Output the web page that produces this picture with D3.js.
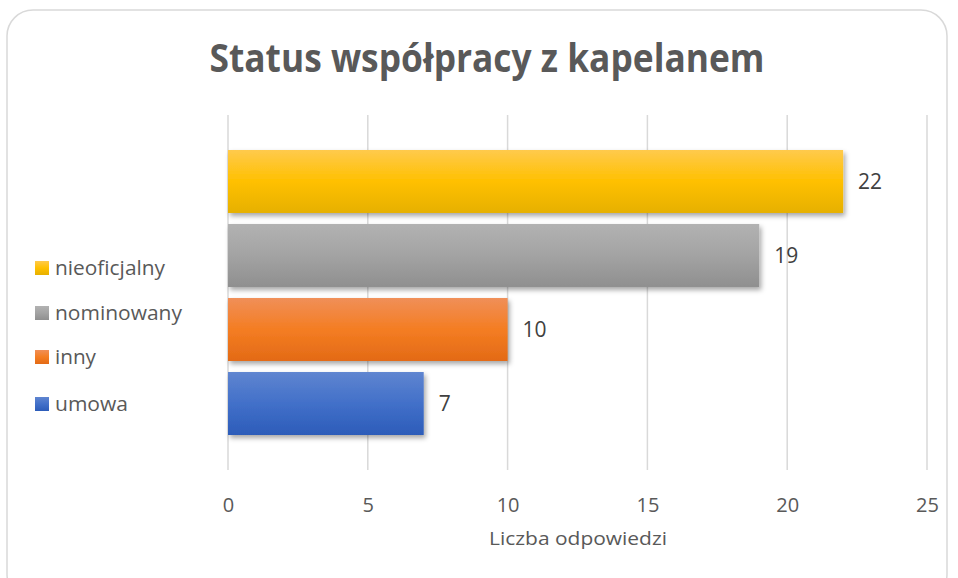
<!DOCTYPE html>
<html><head><meta charset="utf-8">
<script src="https://cdn.jsdelivr.net/npm/d3@7"></script>
<style>body{margin:0;background:#fff}svg{display:block}</style>
</head><body>
<svg id="c" width="958" height="578"></svg>
<script>
const categories = ["nieoficjalny","nominowany","inny","umowa"];
const values = [22,19,10,7];
const tickValues = [0,5,10,15,20,25];
const title = "Status współpracy z kapelanem";
const axisTitle = "Liczba odpowiedzi";
const grads = {
  nieoficjalny:["#ffca4c","#ffc000","#e6b000"],
  nominowany:["#b2b2b2","#a3a3a3","#8f8f8f"],
  inny:["#f08f58","#f47d22","#e36a16"],
  umowa:["#5f85d0","#4270c9","#2c5cb9"]
};
const font = "'Open Sans', sans-serif";
const svg = d3.select("#c");
const defs = svg.append("defs");
const f = defs.append("filter").attr("id","sh").attr("x","-5%").attr("y","-20%").attr("width","115%").attr("height","160%");
f.append("feDropShadow").attr("dx",2).attr("dy",3).attr("stdDeviation",2.5).attr("flood-color","#000").attr("flood-opacity",0.35);
categories.forEach((c,i)=>{
  const g = defs.append("linearGradient").attr("id","g"+i).attr("x1",0).attr("y1",0).attr("x2",0).attr("y2",1);
  g.append("stop").attr("offset","0%").attr("stop-color",grads[c][0]);
  g.append("stop").attr("offset","50%").attr("stop-color",grads[c][1]);
  g.append("stop").attr("offset","100%").attr("stop-color",grads[c][2]);
});
svg.append("rect").attr("x",7).attr("y",10).attr("width",940).attr("height",590).attr("rx",26)
  .attr("fill","#fff").attr("stroke","#d9d9d9").attr("stroke-width",1.5);

const x = d3.scaleLinear().domain([0,25]).range([228,927]);
const y = d3.scaleBand().domain(categories).range([115,470]).paddingInner(0.149).paddingOuter(0.473);

svg.append("g").selectAll("line").data(tickValues).join("line")
  .attr("x1",d=>x(d)).attr("x2",d=>x(d)).attr("y1",115).attr("y2",470)
  .attr("stroke","#d9d9d9").attr("stroke-width",1.5);

const ax = svg.append("g").attr("transform","translate(0,505)")
  .call(d3.axisBottom(x).tickValues(tickValues).tickSize(0).tickPadding(0));
ax.select(".domain").remove();
ax.selectAll("text").attr("font-family",font).attr("font-size",20).attr("fill","#595959").attr("dy","0.35em");

svg.append("g").selectAll("rect").data(categories).join("rect")
  .attr("x",x(0)).attr("y",d=>y(d)).attr("height",y.bandwidth())
  .attr("width",(d,i)=>x(values[i])-x(0))
  .attr("fill",(d,i)=>`url(#g${i})`).attr("filter","url(#sh)");

svg.append("g").selectAll("text").data(categories).join("text")
  .attr("x",(d,i)=>x(values[i])+15).attr("y",d=>y(d)+y.bandwidth()/2)
  .attr("dy","0.35em").attr("font-family",font).attr("font-size",21).attr("fill","#404040")
  .text((d,i)=>values[i]);

svg.append("text").attr("x",487).attr("y",72).attr("text-anchor","middle")
  .attr("font-family",font).attr("font-weight","bold").attr("font-size",39).attr("fill","#595959")
  .attr("textLength",555).attr("lengthAdjust","spacingAndGlyphs").text(title);

svg.append("text").attr("x",578).attr("y",545).attr("text-anchor","middle")
  .attr("font-family",font).attr("font-size",19).attr("fill","#595959")
  .attr("textLength",178).attr("lengthAdjust","spacingAndGlyphs").text(axisTitle);

const legY = [268,313,357,404];
const legW = [110,127,41,73];
const lg = svg.append("g").selectAll("g").data(categories).join("g")
  .attr("transform",(d,i)=>`translate(35,${legY[i]})`);
lg.append("rect").attr("x",0).attr("y",-7).attr("width",14).attr("height",14).attr("fill",(d,i)=>`url(#g${i})`);
lg.append("text").attr("x",20).attr("dy","0.35em").attr("font-family",font).attr("font-size",20)
  .attr("fill","#595959").attr("textLength",(d,i)=>legW[i]).attr("lengthAdjust","spacingAndGlyphs").text(d=>d);
</script>
</body></html>
